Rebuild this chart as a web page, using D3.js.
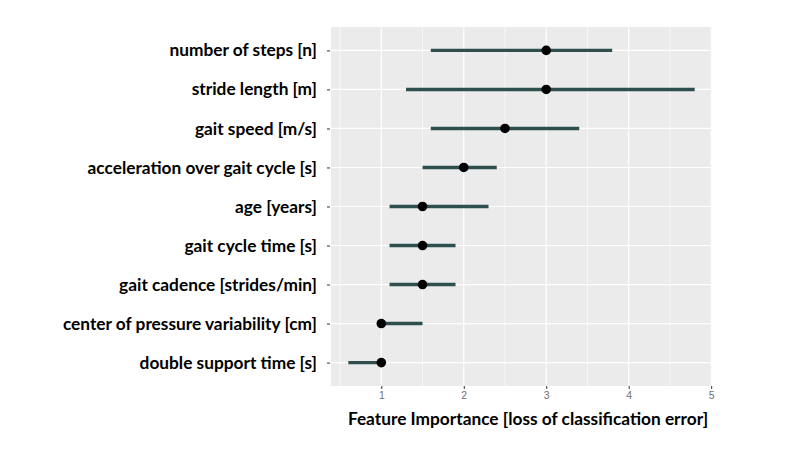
<!DOCTYPE html>
<html>
<head>
<meta charset="utf-8">
<script src="https://cdn.jsdelivr.net/npm/d3@7"></script>
<style>
  html, body { margin: 0; padding: 0; background: #fff; }
  svg { display: block; }
</style>
</head>
<body>
<svg id="chart" width="800" height="456"></svg>
<script>
const features = [
  "number of steps [n]",
  "stride length [m]",
  "gait speed [m/s]",
  "acceleration over gait cycle [s]",
  "age [years]",
  "gait cycle time [s]",
  "gait cadence [strides/min]",
  "center of pressure variability [cm]",
  "double support time [s]"
];
const importance = [3.0, 3.0, 2.5, 2.0, 1.5, 1.5, 1.5, 1.0, 1.0];
const lower      = [1.6, 1.3, 1.6, 1.5, 1.1, 1.1, 1.1, 1.0, 0.6];
const upper      = [3.8, 4.8, 3.4, 2.4, 2.3, 1.9, 1.9, 1.5, 1.0];
const xTicks = [1, 2, 3, 4, 5];
const xMinorTicks = [0.5, 1.5, 2.5, 3.5, 4.5];
const xTitle = "Feature Importance [loss of classification error]";

const data = features.map((f, i) => ({ f, v: importance[i], lo: lower[i], hi: upper[i] }));

const svg = d3.select("#chart");
const panel = { left: 331, right: 712, top: 27, bottom: 386 };

const dataMin = d3.min(lower), dataMax = d3.max(upper);
const ex = (dataMax - dataMin) * 0.05;
const x = d3.scaleLinear().domain([dataMin - ex, dataMax + ex]).range([panel.left, panel.right]);
const y = d3.scalePoint().domain(features).range([panel.top, panel.bottom]).padding(0.6);

svg.append("rect")
  .attr("x", panel.left).attr("y", panel.top)
  .attr("width", panel.right - panel.left).attr("height", panel.bottom - panel.top)
  .attr("fill", "#EBEBEB");

svg.append("g").selectAll("line").data(xMinorTicks).join("line")
  .attr("x1", d => x(d)).attr("x2", d => x(d))
  .attr("y1", panel.top).attr("y2", panel.bottom)
  .attr("stroke", "#fff").attr("stroke-width", 0.6);

svg.append("g").selectAll("line").data(xTicks).join("line")
  .attr("x1", d => x(d)).attr("x2", d => x(d))
  .attr("y1", panel.top).attr("y2", panel.bottom)
  .attr("stroke", "#fff").attr("stroke-width", 1.2);
svg.append("g").selectAll("line").data(features).join("line")
  .attr("x1", panel.left).attr("x2", panel.right)
  .attr("y1", d => y(d)).attr("y2", d => y(d))
  .attr("stroke", "#fff").attr("stroke-width", 1.2);

svg.append("g").selectAll("line").data(data).join("line")
  .attr("x1", d => x(d.lo)).attr("x2", d => x(d.hi))
  .attr("y1", d => y(d.f)).attr("y2", d => y(d.f))
  .attr("stroke", "#2F4F4F").attr("stroke-width", 3.4);

svg.append("g").selectAll("circle").data(data).join("circle")
  .attr("cx", d => x(d.v)).attr("cy", d => y(d.f))
  .attr("r", 4.8).attr("fill", "#000");

const xAxis = d3.axisBottom(x).tickValues(xTicks).tickSize(3).tickPadding(3).tickFormat(d3.format("d"));
const gx = svg.append("g").attr("transform", `translate(0,${panel.bottom})`).call(xAxis);
gx.select(".domain").remove();
gx.selectAll(".tick line").attr("stroke", "#333").attr("stroke-width", 1);
gx.selectAll(".tick text").attr("fill", "#707070").attr("font-family", "Liberation Sans, Arial, sans-serif").attr("font-size", 10.5);

const yAxis = d3.axisLeft(y).tickSize(3).tickPadding(10);
const gy = svg.append("g").attr("transform", `translate(${panel.left - 1},0)`).call(yAxis);
gy.select(".domain").remove();
gy.selectAll(".tick line").attr("stroke", "#333").attr("stroke-width", 1);
gy.selectAll(".tick text").attr("fill", "#000")
  .attr("font-family", "Lato, 'Open Sans', sans-serif").attr("font-weight", "bold").attr("font-size", 17.3);

svg.append("text")
  .attr("x", 528).attr("y", 425)
  .attr("text-anchor", "middle")
  .attr("font-family", "Lato, 'Open Sans', sans-serif").attr("font-weight", "bold").attr("font-size", 17.3)
  .attr("fill", "#000")
  .text(xTitle);
</script>
</body>
</html>
